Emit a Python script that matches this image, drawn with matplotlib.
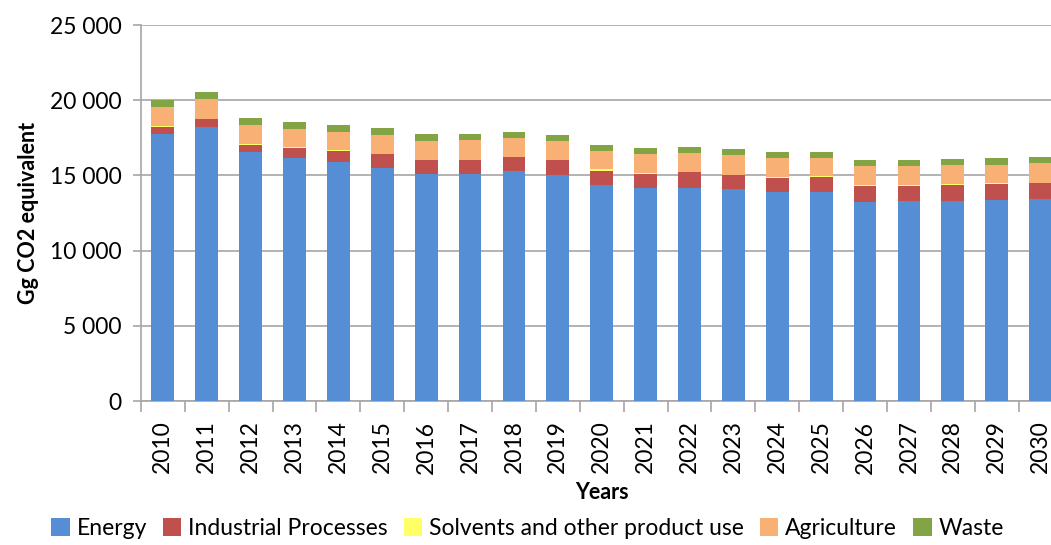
import matplotlib
matplotlib.use("Agg")
import matplotlib.pyplot as plt
import numpy as np
from matplotlib.ticker import FuncFormatter, FixedLocator

years = [str(y) for y in range(2010, 2031)]

energy = [17750, 18200, 16550, 16130, 15870, 15530, 15070, 15130, 15270, 15000,
          14400, 14200, 14200, 14070, 13930, 13870, 13270, 13330, 13330, 13400, 13470]
industrial = [470, 530, 510, 670, 730, 870, 930, 870, 930, 1000,
              930, 930, 1000, 930, 930, 1020, 1020, 1000, 1070, 1020, 1000]
solvents = [70, 20, 20, 70, 70, 20, 20, 20, 20, 20,
            70, 20, 20, 20, 20, 70, 70, 20, 20, 70, 20]
agriculture = [1240, 1330, 1250, 1200, 1200, 1250, 1240, 1310, 1250, 1250,
               1200, 1310, 1250, 1310, 1310, 1180, 1240, 1250, 1250, 1240, 1310]
waste = [470, 470, 470, 470, 470, 470, 470, 400, 400, 400,
         400, 400, 400, 400, 400, 400, 400, 400, 400, 400, 400]

series_names = ["Energy", "Industrial Processes", "Solvents and other product use",
                "Agriculture", "Waste"]
series_colors = ["#558ED5", "#C0504D", "#FFFF66", "#F9B074", "#83A444"]
y_ticks = [0, 5000, 10000, 15000, 20000, 25000]

plt.rcParams["font.family"] = ["Lato", "DejaVu Sans"]

fig = plt.figure(figsize=(10.51, 5.45), dpi=100)
ax = fig.add_axes([0.134, 0.264, 0.877, 0.690])

x = np.arange(len(years))
bottom = np.zeros(len(years))
handles = []
for name, vals, col in zip(series_names, [energy, industrial, solvents, agriculture, waste],
                           series_colors):
    vals = np.array(vals, dtype=float)
    h = ax.bar(x, vals, width=0.52, bottom=bottom, color=col, label=name, zorder=3)
    handles.append(h)
    bottom += vals

ax.set_xlim(-0.5, len(years) - 0.5)
ax.set_ylim(0, 25000)
ax.set_yticks(y_ticks)
ax.yaxis.set_major_formatter(FuncFormatter(lambda v, p: f"{int(v):,}".replace(",", " ")))
ax.grid(axis="y", color="#A6A6A6", linewidth=1.2, zorder=0)

ax.set_xticks(x)
ax.set_xticklabels(years, rotation=90, fontsize=16.5)
ax.tick_params(axis="x", which="major", length=0, pad=14)
ax.xaxis.set_minor_locator(FixedLocator(np.arange(-0.5, len(years), 1.0)))
ax.tick_params(axis="x", which="minor", length=8, color="#A6A6A6", width=1.2)
ax.tick_params(axis="y", labelsize=16.5, length=6, color="#A6A6A6", width=1.2, pad=8)

for side in ["top", "right"]:
    ax.spines[side].set_visible(False)
for side in ["left", "bottom"]:
    ax.spines[side].set_color("#A6A6A6")
    ax.spines[side].set_linewidth(1.2)

ax.set_ylabel("Gg CO2 equivalent", fontsize=15.5, fontweight="bold", labelpad=8)
ax.set_xlabel("Years", fontsize=15.5, fontweight="bold", labelpad=6)

fig.legend(handles=handles, labels=series_names, loc="center", ncol=5,
           bbox_to_anchor=(0.502, 0.03), frameon=False, fontsize=16.5,
           handlelength=0.8, handleheight=0.8, handletextpad=0.3, columnspacing=0.7,
           borderpad=0.1)

fig.savefig("out.png", dpi=100)
